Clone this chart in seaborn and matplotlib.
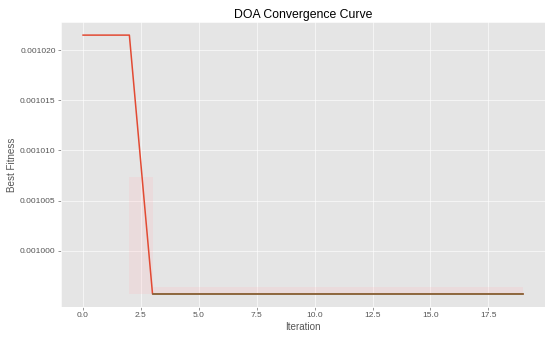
import numpy as np
import pandas as pd
import seaborn as sns
import matplotlib.pyplot as plt

# values
iterations = list(range(20))
best_fitness = [0.0010215] * 3 + [0.0009957] * 17
# second (olive) curve overlapping the red one after the drop
olive_fitness = [np.nan] * 3 + [0.0009957] * 17
# faint pink band
band_low = [0.0010215, 0.0010215, 0.0009957] + [0.0009957] * 17
band_high = [0.0010215, 0.0010215, 0.0010074] + [0.0009964] * 17

plt.style.use('ggplot')
plt.rcParams['font.family'] = ['Liberation Sans', 'DejaVu Sans']

df = pd.DataFrame({'Iteration': iterations, 'Best Fitness': best_fitness,
                   'Olive': olive_fitness})

fig, ax = plt.subplots(figsize=(10, 6.2), dpi=55)
fig.subplots_adjust(left=0.111, right=0.991, top=0.935, bottom=0.10)

ax.fill_between(iterations, band_low, band_high, step='post',
                color='#FFB5B8', alpha=0.2, linewidth=0)
sns.lineplot(data=df, x='Iteration', y='Best Fitness', ax=ax,
             color='#E24A33', linewidth=2)
sns.lineplot(data=df, x='Iteration', y='Olive', ax=ax,
             color='#76693a', linewidth=2)

ax.set_title('DOA Convergence Curve', color='black', fontsize=16)
ax.set_xlabel('Iteration', fontsize=13)
ax.set_ylabel('Best Fitness', fontsize=13)
ax.tick_params(labelsize=11)
ax.yaxis.set_major_formatter(plt.FormatStrFormatter('%.6f'))
ax.set_yticks([0.001000, 0.001005, 0.001010, 0.001015, 0.001020])

fig.savefig('out.png', dpi=55)
